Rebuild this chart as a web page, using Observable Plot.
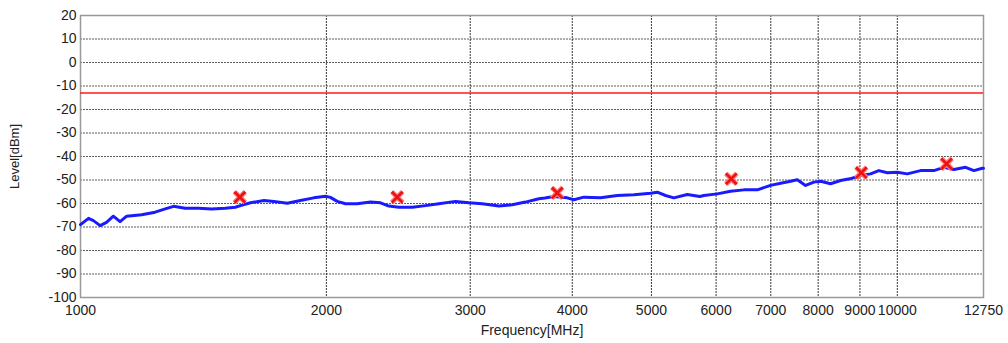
<!DOCTYPE html>
<html>
<head>
<meta charset="utf-8">
<script src="https://cdn.jsdelivr.net/npm/d3@7"></script>
<script src="https://cdn.jsdelivr.net/npm/@observablehq/plot@0.6"></script>
<style>
  html, body { margin: 0; padding: 0; background: #fff; }
  #chart { width: 1008px; height: 343px; }
</style>
</head>
<body>
<div id="chart"></div>
<script>
// Trace frequencies (MHz) and levels (dBm)
const traceFreq = [1000, 1023, 1037, 1057, 1076, 1097, 1118, 1139, 1188, 1234, 1270, 1300, 1343, 1395, 1447, 1504, 1547,
  1570, 1615, 1677, 1725, 1791, 1859, 1930, 1995, 2023, 2062, 2111, 2181, 2265, 2330, 2385,
  2453, 2548, 2645, 2746, 2878, 2988, 3103, 3252, 3377, 3506, 3641, 3703,
  3798, 3944, 4018, 4133, 4332, 4541, 4759, 4988, 5083, 5203, 5326, 5532, 5732,
  5797, 6020, 6249, 6489, 6738, 6995, 7197, 7402, 7543, 7721, 7904, 8055, 8285, 8521, 8748,
  9016, 9275, 9493, 9722, 9999, 10285, 10678, 11086, 11404, 11728, 12122, 12410, 12707, 12750];
const traceLevel = [-69, -66.3, -67.3, -69.4, -68, -65.4, -67.7, -65.4, -64.8, -63.7, -62.3, -61.2, -62, -62, -62.3, -62, -61.6,
  -60.9, -59.7, -58.7, -59.1, -59.9, -58.7, -57.6, -56.9, -57.4, -59.1, -60.1, -60.1, -59.4, -59.7, -61.1,
  -61.6, -61.6, -60.9, -60.1, -59.1, -59.7, -60.1, -61.1, -60.5, -59.4, -58.0, -57.7,
  -57.0, -57.6, -58.4, -57.3, -57.6, -56.6, -56.3, -55.6, -55.2, -56.6, -57.6, -56.2, -57.0,
  -56.6, -55.9, -54.8, -54.2, -54.2, -52.3, -51.4, -50.5, -49.9, -52.3, -50.9, -50.5, -51.6, -50.2, -49.5,
  -48.1, -47.4, -46.0, -46.9, -46.7, -47.4, -46.0, -46.0, -44.6, -45.5, -44.6, -46.0, -45.0, -45.0];

// Peak markers
const peakFreq = [1567, 2442, 3834, 6262, 9035, 11490];
const peakLevel = [-57.3, -57.3, -55.5, -49.5, -46.9, -43.1];

// Limit line
const limitLevel = -13;

// Axis ticks
const xTicks = [1000, 2000, 3000, 4000, 5000, 6000, 7000, 8000, 9000, 10000, 12750];
const xGrid = [2000, 3000, 4000, 5000, 6000, 7000, 8000, 9000, 10000];
const yTicks = [20, 10, 0, -10, -20, -30, -40, -50, -60, -70, -80, -90, -100];

const trace = traceFreq.map((f, i) => ({f, v: traceLevel[i]}));
const peaks = peakFreq.map((f, i) => ({f, v: peakLevel[i]}));

const chart = Plot.plot({
  width: 1008,
  height: 343,
  marginLeft: 80,
  marginRight: 25,
  marginTop: 15,
  marginBottom: 46,
  style: {fontFamily: "Liberation Sans, Arial, sans-serif", fontSize: "14px", color: "#222", background: "#fff"},
  x: {type: "log", domain: [1000, 12750]},
  y: {domain: [-100, 20]},
  marks: [
    Plot.gridY(yTicks.filter(d => d > -100 && d < 20), {stroke: "#333", strokeOpacity: 0.8, strokeDasharray: "2,1", strokeWidth: 1}),
    Plot.gridX(xGrid, {stroke: "#222", strokeOpacity: 0.9, strokeDasharray: "2,1", strokeWidth: 1}),
    Plot.frame({stroke: "#999", strokeWidth: 1.5}),
    Plot.ruleY([limitLevel], {stroke: "#ff1a1a", strokeWidth: 1.6}),
    Plot.line(trace, {x: "f", y: "v", stroke: "#1a1aff", strokeWidth: 3, strokeLinejoin: "round"}),
    Plot.dot(peaks, {x: "f", y: "v", symbol: "times", r: 5, stroke: "#ff8080", strokeWidth: 5}),
    Plot.dot(peaks, {x: "f", y: "v", symbol: "times", r: 5, stroke: "#ee1111", strokeWidth: 2.6}),
    Plot.axisX(xTicks, {tickSize: 0, tickPadding: 8, tickFormat: d => String(d), label: null, fontSize: 14}),
    Plot.axisY(yTicks, {tickSize: 0, tickPadding: 4, tickFormat: d => String(d), label: null, fontSize: 14}),
    Plot.text(["Frequency[MHz]"], {frameAnchor: "bottom", dy: 37, fontSize: 14, textAnchor: "middle"}),
    Plot.text(["Level[dBm]"], {frameAnchor: "left", dx: -66, rotate: -90, fontSize: 13, textAnchor: "middle"})
  ]
});
document.getElementById("chart").appendChild(chart);
</script>
</body>
</html>
